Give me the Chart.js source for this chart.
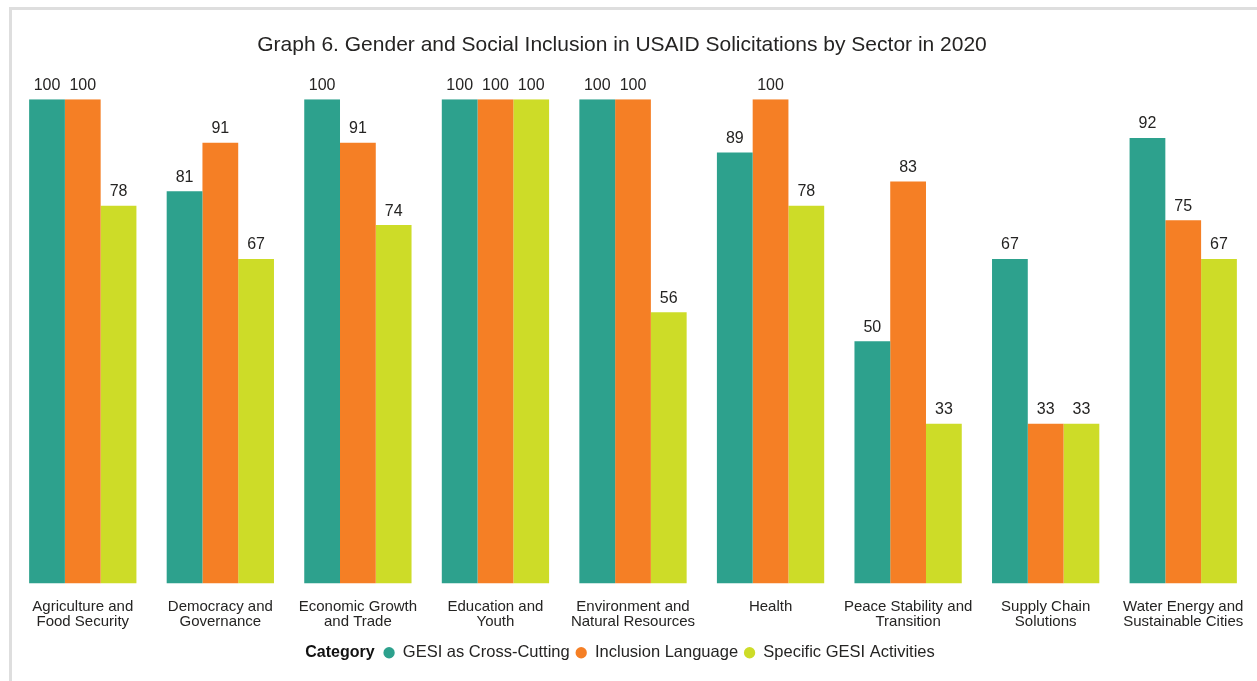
<!DOCTYPE html>
<html>
<head>
<meta charset="utf-8">
<script src="https://cdn.jsdelivr.net/npm/chart.js@4"></script>
<style>
  html, body { margin: 0; padding: 0; background: #fff; overflow: hidden; }
  #frame { position: absolute; left: 9px; top: 7px; width: 1400px; height: 800px;
           border-left: 3px solid #dedede; border-top: 3px solid #dedede; }
  #wrap { position: absolute; left: 0; top: 0; width: 1257px; height: 681px; }
</style>
</head>
<body>
<div id="frame"></div>
<div id="wrap"><canvas id="bar-chart"></canvas></div>
<script>
// sectores
const sectores = [
  ["Agriculture and", "Food Security"],
  ["Democracy and", "Governance"],
  ["Economic Growth", "and Trade"],
  ["Education and", "Youth"],
  ["Environment and", "Natural Resources"],
  ["Health"],
  ["Peace Stability and", "Transition"],
  ["Supply Chain", "Solutions"],
  ["Water Energy and", "Sustainable Cities"]
]

// valores por categoria
const crossCutting = [100, 81, 100, 100, 100, 89, 50, 67, 92]
const inclusionLanguage = [100, 91, 91, 100, 100, 100, 83, 33, 75]
const specificActivities = [78, 67, 74, 100, 56, 78, 33, 33, 67]

const textColor = "#252423"
Chart.defaults.font.family = "'Liberation Sans', Arial, sans-serif"
Chart.defaults.color = textColor

// etiquetas encima de cada barra
const barLabels = {
  id: "barLabels",
  afterDatasetsDraw(chart) {
    const ctx = chart.ctx
    ctx.save()
    ctx.font = "16px 'Liberation Sans', Arial, sans-serif"
    ctx.fillStyle = textColor
    ctx.textAlign = "center"
    ctx.textBaseline = "bottom"
    chart.data.datasets.forEach((ds, i) => {
      chart.getDatasetMeta(i).data.forEach((bar, j) => {
        ctx.fillText(ds.data[j], bar.x, bar.y - 6)
      })
    })
    ctx.restore()
  }
}

// leyenda con el titulo "Category" en la misma linea
const legendCenter = 620
const legendGap = 9
const legendShift = 7
const legendTitle = {
  id: "legendTitle",
  afterLayout(chart) {
    const lg = chart.legend
    if (!lg || !lg.lineWidths) return
    const ctx = chart.ctx
    ctx.save()
    ctx.font = "bold 16px 'Liberation Sans', Arial, sans-serif"
    const w = ctx.measureText("Category").width
    ctx.restore()
    const pad = lg.options.labels.padding
    const itemsWidth = lg.lineWidths[0] - pad
    const start = legendCenter - (w + legendGap + itemsWidth) / 2
    const itemsStart = start + w + legendGap
    lg.lineWidths[0] = lg.left + pad + lg.right - 2 * itemsStart
    lg._catX = start
    // subir un poco la leyenda
    lg.top -= legendShift
    lg.bottom -= legendShift
    // titulo centrado como en el original
    chart.titleBlock.left = 0
    chart.titleBlock.right = 1244
  },
  afterDraw(chart) {
    const lg = chart.legend
    const ctx = chart.ctx
    ctx.save()
    ctx.font = "bold 16px 'Liberation Sans', Arial, sans-serif"
    ctx.fillStyle = "#111"
    ctx.textAlign = "left"
    ctx.textBaseline = "middle"
    const pad = lg.options.labels.padding
    const h = lg.legendHitBoxes[0].height
    ctx.fillText("Category", lg._catX, lg.top + pad + h / 2)
    ctx.restore()
  }
}

const contenedorBarChart = document
.querySelector("#bar-chart")
.getContext("2d")

const barChart = new Chart(contenedorBarChart, {
  type: "bar",
  data: {
    labels: sectores,
    datasets: [
      { label: "GESI as Cross-Cutting", data: crossCutting, backgroundColor: "#2da18d" },
      { label: "Inclusion Language", data: inclusionLanguage, backgroundColor: "#f57f25" },
      { label: "Specific GESI Activities", data: specificActivities, backgroundColor: "#cddc28" }
    ]
  },
  options: {
    responsive: true,
    maintainAspectRatio: false,
    animation: false,
    layout: { padding: { left: 14, right: 5, top: 0, bottom: 3 } },
    datasets: { bar: { categoryPercentage: 0.78, barPercentage: 1 } },
    scales: {
      x: {
        grid: { display: false, drawTicks: false },
        border: { display: false },
        ticks: { font: { size: 15, lineHeight: 1.0 }, color: textColor, padding: 16, maxRotation: 0, autoSkip: false },
        // sin relleno extra por las etiquetas largas
        afterFit: (scale) => {
          scale.paddingLeft = 0
          scale.paddingRight = 0
        }
      },
      y: { display: false, min: 0, max: 100 }
    },
    plugins: {
      title: {
        display: true,
        text: "Graph 6. Gender and Social Inclusion in USAID Solicitations by Sector in 2020",
        font: { size: 21, weight: "normal" },
        color: textColor,
        padding: { top: 33, bottom: 41 }
      },
      legend: {
        position: "bottom",
        labels: {
          usePointStyle: true,
          pointStyle: "circle",
          boxWidth: 11,
          boxHeight: 8,
          padding: 6,
          font: { size: 16.5 },
          color: textColor
        }
      },
      tooltip: { enabled: false }
    }
  },
  plugins: [barLabels, legendTitle]
})
</script>
</body>
</html>
